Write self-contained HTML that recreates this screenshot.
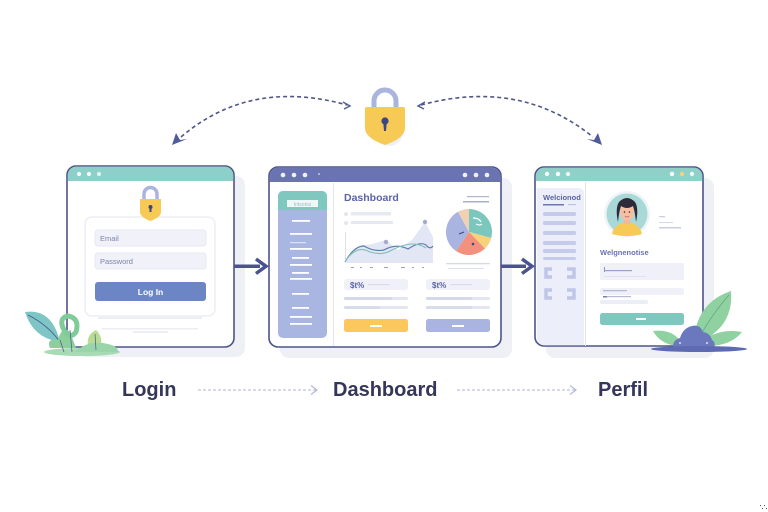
<!DOCTYPE html>
<html><head><meta charset="utf-8"><style>
html,body{margin:0;padding:0;background:#fff;}
svg{display:block;}
text{font-family:"Liberation Sans",sans-serif;}
</style></head><body>
<svg width="768" height="512" viewBox="0 0 768 512" xmlns="http://www.w3.org/2000/svg">
<rect width="768" height="512" fill="#ffffff"/>

<!-- Top dashed arcs -->
<path d="M181 137 Q250 78 347 105" fill="none" stroke="#4f5788" stroke-width="1.6" stroke-dasharray="4,3"/>
<path d="M421 105 Q520 78 593 137" fill="none" stroke="#4f5788" stroke-width="1.6" stroke-dasharray="4,3"/>
<path d="M172 145 L176 133 L180 140 L187 139 Z" fill="#4f5b9a"/>
<path d="M602 145 L598 133 L594 140 L587 139 Z" fill="#4f5b9a"/>
<path d="M343 102 L350 106 L344 109" fill="none" stroke="#4f5b9a" stroke-width="1.4"/>
<path d="M425 102 L418 106 L424 109" fill="none" stroke="#4f5b9a" stroke-width="1.4"/>

<!-- Top lock -->
<ellipse cx="389" cy="132" rx="14" ry="14" fill="#eef0f8"/>
<path d="M374 110 V101 A11 11 0 0 1 396 101 V110" fill="none" stroke="#a9b5dd" stroke-width="5"/>
<path d="M365 109 Q365 107 367 107 L403 107 Q405 107 405 109 L405 128 Q405 138 385 145 Q365 138 365 128 Z" fill="#f7c955"/>
<circle cx="385" cy="121" r="3.6" fill="#3d4680"/>
<path d="M383.2 122 L386.8 122 L386 131 L384 131 Z" fill="#3d4680"/>

<!-- ===== LOGIN WINDOW ===== -->
<rect x="77" y="176" width="168" height="181" rx="9" fill="#eef0f6"/>
<rect x="67" y="166" width="167" height="181" rx="9" fill="#ffffff" stroke="#4c5488" stroke-width="1.6"/>
<path d="M67.8 181 V175 A8.2 8.2 0 0 1 76 166.8 H225 A8.2 8.2 0 0 1 233.2 175 V181 Z" fill="#8dd0c9"/>
<circle cx="79" cy="174" r="2" fill="#fff"/>
<circle cx="89" cy="174" r="2" fill="#fff"/>
<circle cx="99" cy="174" r="2" fill="#fff" opacity="0.8"/>
<!-- login card -->
<rect x="85" y="217" width="130" height="99" rx="7" fill="#fff" stroke="#eceef5" stroke-width="1.5"/>
<!-- small lock -->
<path d="M144 200 V194 A6.5 6.5 0 0 1 157 194 V200" fill="none" stroke="#a9b5dd" stroke-width="3.5"/>
<path d="M140 199 L161 199 L161 212 Q161 217 150.5 221 Q140 217 140 212 Z" fill="#f7c955"/>
<circle cx="150.5" cy="207" r="2" fill="#3d4680"/>
<rect x="149.5" y="207" width="2" height="5" fill="#3d4680"/>
<!-- fields -->
<rect x="95" y="230" width="111" height="16" rx="3" fill="#f1f2f9" stroke="#e6e8f2" stroke-width="1"/>
<text x="100" y="241" font-size="7.5" fill="#7c83a8">Email</text>
<rect x="95" y="253" width="111" height="16" rx="3" fill="#f1f2f9" stroke="#e6e8f2" stroke-width="1"/>
<text x="100" y="264" font-size="7.5" fill="#7c83a8">Password</text>
<rect x="95" y="282" width="111" height="19" rx="3" fill="#6b85c5"/>
<text x="150.5" y="295" font-size="8.5" font-weight="bold" fill="#ffffff" text-anchor="middle">Log In</text>
<rect x="98" y="317" width="104" height="2" fill="#eceef4"/>
<rect x="102" y="328" width="96" height="1.5" fill="#eceef4"/>
<rect x="133" y="331" width="35" height="2" fill="#eceef4"/>

<!-- left plant -->
<ellipse cx="82" cy="352" rx="38" ry="4" fill="#a6dbb4"/>
<path d="M25 312 Q52 308 60 342 Q33 338 25 312 Z" fill="#7dc6c5"/>
<path d="M28 315 Q48 325 60 342" fill="none" stroke="#4c5488" stroke-width="0.8"/>
<path d="M50 348 Q46 338 58 340 Q62 325 70 332 L76 348 Z" fill="#8ccf9c"/>
<path d="M64 330 Q58 318 68 316 Q80 318 76 332 Q70 340 64 330 Z" fill="none" stroke="#7fcc98" stroke-width="5"/>
<path d="M88 346 Q86 335 96 330 Q104 338 100 348 Z" fill="#b8dc92"/>
<path d="M80 348 Q92 340 108 344 Q118 346 118 352 L74 352 Z" fill="#99d5a8"/>
<path d="M60 340 L64 352 M70 330 L72 352 M95 334 L96 350" stroke="#4c5488" stroke-width="0.7"/>

<!-- arrow login -> dashboard -->
<rect x="234" y="264.5" width="26" height="3.5" fill="#4a5390"/>
<path d="M256 259 L266 266.3 L256 273.5" fill="none" stroke="#4a5390" stroke-width="3.5" stroke-linejoin="miter"/>

<!-- ===== DASHBOARD WINDOW ===== -->
<rect x="280" y="178" width="232" height="180" rx="9" fill="#eef0f6"/>
<rect x="269" y="167" width="232" height="180" rx="9" fill="#ffffff" stroke="#4c5488" stroke-width="1.6"/>
<path d="M269.8 182 V176 A8.2 8.2 0 0 1 278 167.8 H492 A8.2 8.2 0 0 1 500.2 176 V182 Z" fill="#6a74b3"/>
<circle cx="283" cy="175" r="2.3" fill="#fff" opacity="0.9"/>
<circle cx="294" cy="175" r="2.3" fill="#fff" opacity="0.9"/>
<circle cx="305" cy="175" r="2.3" fill="#fff" opacity="0.9"/>
<circle cx="319" cy="174" r="0.8" fill="#fff"/>
<circle cx="465" cy="175" r="2.3" fill="#fff" opacity="0.9"/>
<circle cx="476" cy="175" r="2.3" fill="#fff" opacity="0.9"/>
<circle cx="487" cy="175" r="2.3" fill="#fff" opacity="0.9"/>
<!-- sidebar -->
<rect x="278" y="191" width="49" height="147" rx="5" fill="#aab6e2"/>
<path d="M278 210 V196 A5 5 0 0 1 283 191 H322 A5 5 0 0 1 327 196 V210 Z" fill="#7fc8bf"/>
<rect x="287" y="200" width="31" height="7" fill="#eef8f6"/>
<text x="302.5" y="206" font-size="5" fill="#9fb8c8" text-anchor="middle">Intsotoz</text>
<g fill="#ffffff">
<rect x="292" y="220" width="18" height="1.8"/>
<rect x="290" y="233" width="22" height="1.8"/>
<rect x="290" y="242" width="16" height="1.2" opacity="0.6"/>
<rect x="290" y="248" width="22" height="1.8"/>
<rect x="292" y="257" width="17" height="1.8"/>
<rect x="290" y="264" width="22" height="1.8"/>
<rect x="292" y="272" width="17" height="1.8"/>
<rect x="290" y="278" width="22" height="1.8"/>
<rect x="292" y="293" width="17" height="1.8"/>
<rect x="292" y="307" width="17" height="1.8"/>
<rect x="290" y="316" width="22" height="1.8"/>
<rect x="290" y="323" width="22" height="1.8"/>
</g>
<rect x="333" y="183" width="1" height="163" fill="#e4e6ef"/>
<text x="344" y="201" font-size="10.5" font-weight="bold" fill="#5a64a6">Dashboard</text>
<rect x="467" y="196" width="22" height="1.2" fill="#b0b6d0"/>
<rect x="463" y="201" width="26" height="1.5" fill="#aab0cc"/>
<circle cx="346" cy="214" r="2" fill="#e3e5f0"/>
<rect x="351" y="212" width="40" height="3.5" fill="#e6e8f2"/>
<circle cx="346" cy="223" r="2" fill="#e3e5f0"/>
<rect x="351" y="221" width="42" height="3" fill="#e6e8f2"/>
<!-- chart -->
<path d="M345 263 L358 246 L372 244 L386 240 L398 250 L412 240 L425 222 L433 237 L433 263 Z" fill="#e3e6f5"/>
<path d="M345 262 Q354 246 364 246 Q374 252 384 250 Q396 243 408 249 Q420 241 426 245 Q430 250 433 246" fill="none" stroke="#5d7fb0" stroke-width="1.2"/>
<path d="M345 262 Q356 244 370 252 Q382 256 392 250 Q404 244 412 244 Q420 244 426 248" fill="none" stroke="#7cc2b8" stroke-width="1.1"/>
<circle cx="386" cy="242" r="2.2" fill="#a6aacb"/>
<circle cx="425" cy="222" r="2.2" fill="#a6aacb"/>
<rect x="345" y="232" width="0.8" height="28" fill="#d3d6e4"/>
<g fill="#9aa0bf">
<rect x="351" y="267" width="3" height="1"/><rect x="360" y="267" width="2" height="1"/><rect x="370" y="267" width="3" height="1"/><rect x="384" y="267" width="4" height="1"/><rect x="401" y="267" width="4" height="1"/><rect x="412" y="267" width="2" height="1"/><rect x="422" y="267" width="2" height="1"/>
</g>
<!-- pie -->
<g transform="translate(469,232)">
<circle r="24" fill="#ffffff"/>
<path d="M0 0 L0 -23 A23 23 0 0 1 22.2 6 Z" fill="#7cc7bd"/>
<path d="M0 0 L22.2 6 A23 23 0 0 1 16 16.5 Z" fill="#f6d37a"/>
<path d="M0 0 L16 16.5 A23 23 0 0 1 -13 19 Z" fill="#f3907e"/>
<path d="M0 0 L-13 19 A23 23 0 0 1 -11 -20.2 Z" fill="#a9b4e0"/>
<path d="M0 0 L-11 -20.2 A23 23 0 0 1 0 -23 Z" fill="#f1d0b4"/>
<path d="M4 -14 Q10 -14 12 -10 M7 -8 Q11 -6 13 -8" fill="none" stroke="#ffffff" stroke-width="1.2"/>
<path d="M-10 2 L-5 0" stroke="#3d4680" stroke-width="1"/>
<circle cx="4" cy="12" r="1.3" fill="#3d4680"/>
</g>
<rect x="446" y="263" width="44" height="1.3" fill="#d5d9ea"/>
<rect x="448" y="268" width="36" height="1" fill="#e0e3ef"/>
<!-- stats -->
<rect x="344" y="279" width="64" height="11" rx="3" fill="#f0f1f8"/>
<text x="350" y="288" font-size="8" font-weight="bold" fill="#5a64a6">$t%</text>
<rect x="368" y="284" width="22" height="1.2" fill="#d8dbe8"/>
<rect x="426" y="279" width="64" height="11" rx="3" fill="#f0f1f8"/>
<text x="432" y="288" font-size="8" font-weight="bold" fill="#5a64a6">$t%</text>
<rect x="450" y="284" width="22" height="1.2" fill="#d8dbe8"/>
<rect x="344" y="297" width="64" height="3" rx="1.5" fill="#e3e5f1"/>
<rect x="344" y="297" width="48" height="3" rx="1.5" fill="#d5d8ea"/>
<rect x="344" y="306" width="64" height="3" rx="1.5" fill="#e3e5f1"/>
<rect x="344" y="306" width="36" height="3" rx="1.5" fill="#d8dbea"/>
<rect x="426" y="297" width="64" height="3" rx="1.5" fill="#e3e5f1"/>
<rect x="426" y="297" width="46" height="3" rx="1.5" fill="#d5d8ea"/>
<rect x="426" y="306" width="64" height="3" rx="1.5" fill="#e3e5f1"/>
<rect x="426" y="306" width="46" height="3" rx="1.5" fill="#d8dbea"/>
<rect x="344" y="319" width="64" height="13" rx="2.5" fill="#fcc75c"/>
<rect x="370" y="325" width="12" height="2" fill="#fff"/>
<rect x="426" y="319" width="64" height="13" rx="2.5" fill="#a9b4e0"/>
<rect x="452" y="325" width="12" height="2" fill="#fff"/>

<!-- arrow dashboard -> profile -->
<rect x="501" y="264.5" width="25" height="3.5" fill="#4a5390"/>
<path d="M522 259 L532 266.3 L522 273.5" fill="none" stroke="#4a5390" stroke-width="3.5"/>

<!-- ===== PROFILE WINDOW ===== -->
<rect x="546" y="178" width="168" height="180" rx="9" fill="#eef0f6"/>
<rect x="535" y="167" width="168" height="179" rx="9" fill="#ffffff" stroke="#4c5488" stroke-width="1.6"/>
<path d="M535.8 181 V176 A8.2 8.2 0 0 1 544 167.8 H694 A8.2 8.2 0 0 1 702.2 176 V181 Z" fill="#8fd0c8"/>
<circle cx="547" cy="174" r="2.2" fill="#fff"/>
<circle cx="558" cy="174" r="2.2" fill="#fff"/>
<circle cx="568" cy="174" r="2.2" fill="#fff" opacity="0.85"/>
<circle cx="672" cy="174" r="2.2" fill="#fff"/>
<circle cx="682" cy="174" r="2.2" fill="#f6d37a"/>
<circle cx="692" cy="174" r="2.2" fill="#fff" opacity="0.85"/>
<!-- sidebar -->
<path d="M536.8 188 H579 A5 5 0 0 1 584 193 V345.2 H544 A7.2 7.2 0 0 1 536.8 338 Z" fill="#eceffa"/>
<rect x="585" y="182" width="1" height="164" fill="#e2e5ef"/>
<text x="543" y="200" font-size="7.5" font-weight="bold" fill="#5a64a6">Welcionod</text>
<rect x="543" y="204" width="21" height="1.5" fill="#6e77ad"/>
<rect x="568" y="204" width="8" height="1.2" fill="#c0c5de"/>
<g fill="#c5cbea">
<rect x="543" y="212" width="33" height="4" rx="1.5"/>
<rect x="543" y="221" width="33" height="4" rx="1.5"/>
<rect x="543" y="231" width="33" height="4" rx="1.5"/>
<rect x="543" y="241" width="33" height="4" rx="1.5"/>
<rect x="543" y="249" width="33" height="4" rx="1.5"/>
<rect x="543" y="257" width="33" height="3" rx="1.5"/>
</g>
<g fill="none" stroke="#bfc6e8" stroke-width="3.5">
<path d="M552 269 H546 V277 H552"/>
<path d="M567 269 H574 V277 H567"/>
<path d="M552 290 H546 V298 H552"/>
<path d="M567 290 H574 V298 H567"/>
</g>
<!-- avatar -->
<circle cx="627" cy="214" r="23" fill="#eef3f8"/>
<circle cx="627" cy="214" r="20.5" fill="#a9d9d6"/>
<path d="M612 234 Q614 224 627 222 Q640 224 642 234 Q635 236 627 236 Q619 236 612 234 Z" fill="#f7c955"/>
<rect x="624" y="218" width="6" height="6" fill="#f2b79a"/>
<ellipse cx="627" cy="212" rx="7" ry="8.5" fill="#f5c0a2"/>
<path d="M618 222 Q615 208 619 202 Q627 194 635 202 Q639 208 636 222 Q635 212 633 206 Q627 210 621 206 Q619 212 618 222 Z" fill="#2f2a3a"/>
<circle cx="624.5" cy="212" r="0.8" fill="#2f2a3a"/>
<circle cx="629.5" cy="212" r="0.8" fill="#2f2a3a"/>
<path d="M625 216 Q627 218 629 216" fill="none" stroke="#c06060" stroke-width="0.8"/>
<rect x="659" y="216" width="6" height="1.2" fill="#c9cde2"/>
<rect x="659" y="222" width="14" height="1" fill="#d5d8e8"/>
<rect x="659" y="227" width="22" height="1.5" fill="#c9cde2"/>
<text x="600" y="255" font-size="7.5" font-weight="bold" fill="#6a73ad">Welgnenotise</text>
<rect x="600" y="263" width="84" height="17" rx="2" fill="#f0f1f8"/>
<rect x="604" y="267" width="1" height="5" fill="#8f96be"/>
<rect x="605" y="270" width="27" height="1.2" fill="#9aa1c4"/>
<rect x="604" y="276" width="42" height="1" fill="#dfe2ee"/>
<rect x="600" y="288" width="84" height="7" rx="2" fill="#f0f1f8"/>
<rect x="603" y="290" width="24" height="1.3" fill="#b5bad5"/>
<rect x="603" y="296" width="4" height="1.5" fill="#7a82b2"/>
<rect x="607" y="296" width="24" height="1.2" fill="#b5bad5"/>
<rect x="600" y="300" width="48" height="4" rx="1.5" fill="#eceef6"/>
<rect x="600" y="313" width="84" height="12" rx="2.5" fill="#7fc8bf"/>
<rect x="636" y="318" width="10" height="2" fill="#fff"/>

<!-- right plant -->
<path d="M694 338 Q698 302 731 291 Q734 326 700 342 Z" fill="#8fd1a0"/>
<path d="M699 338 Q712 314 729 295" fill="none" stroke="#5fa57a" stroke-width="0.7"/>
<path d="M702 341 Q720 328 742 332 Q730 347 704 346 Z" fill="#8fd1a0"/>
<path d="M653 331 Q674 328 684 346 Q662 347 653 331 Z" fill="#8fd1a0"/>
<path d="M673 349 Q672 340 680 338 Q683 328 692 326 Q700 324 703 332 Q710 333 712 340 Q716 342 714 349 Z" fill="#6c78be"/>
<ellipse cx="699" cy="349" rx="48" ry="3" fill="#5e6ab2"/>
<circle cx="680" cy="343" r="0.9" fill="#fff"/>
<circle cx="707" cy="343" r="0.9" fill="#fff"/>

<!-- bottom labels -->
<text x="122" y="396" font-size="20" font-weight="bold" fill="#34365a">Login</text>
<text x="333" y="396" font-size="20" font-weight="bold" fill="#34365a">Dashboard</text>
<text x="598" y="396" font-size="20" font-weight="bold" fill="#34365a">Perfil</text>
<path d="M198 390 H316" stroke="#b0b6d6" stroke-width="1" stroke-dasharray="3,2"/>
<path d="M311 385.5 L317 390 L311 394.5" fill="none" stroke="#b0b6d6" stroke-width="1.1"/>
<path d="M457 390 H575" stroke="#b0b6d6" stroke-width="1" stroke-dasharray="3,2"/>
<path d="M570 385.5 L576 390 L570 394.5" fill="none" stroke="#b0b6d6" stroke-width="1.1"/>

<!-- corner mark -->
<g fill="#555"><rect x="760" y="505" width="1" height="1"/><rect x="764" y="505" width="1" height="1"/><rect x="762" y="508" width="1" height="1"/><rect x="766" y="508" width="1" height="1"/></g>
</svg>
</body></html>
